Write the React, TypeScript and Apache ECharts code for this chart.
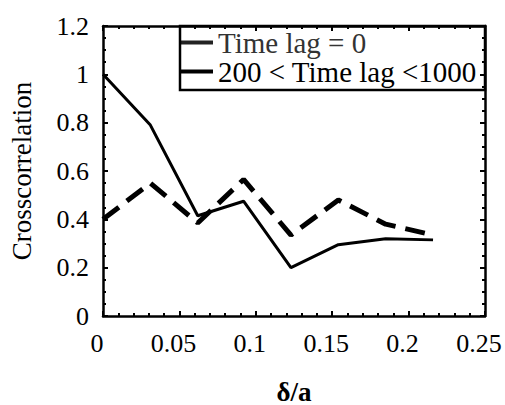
import React, { useEffect, useRef } from "react";
import * as echarts from "echarts";

const xValues = [0, 0.031, 0.062, 0.092, 0.123, 0.154, 0.185, 0.216];
const lag0 = [1.0, 0.79, 0.415, 0.475, 0.2, 0.295, 0.32, 0.315];
const lagRange = [0.4, 0.55, 0.385, 0.565, 0.335, 0.48, 0.38, 0.335];
const seriesNames = ["Time lag = 0", "200 < Time lag <1000"];
const xAxisName = "δ/a";
const yAxisName = "Crosscorrelation";
const xRange = { min: 0, max: 0.25, interval: 0.05 };
const yRange = { min: 0, max: 1.2, interval: 0.2 };

const FONT = "'Liberation Serif', 'Times New Roman', serif";

export default function App() {
  const ref = useRef<HTMLDivElement>(null);
  useEffect(() => {
    if (!ref.current) return;
    const chart = echarts.init(ref.current, undefined, { renderer: "svg" });
    const tickCommon = {
      axisLine: { show: true, onZero: false, lineStyle: { color: "#000", width: 2.5 } },
      splitLine: { show: false },
    };
    const xBase = {
      type: "value",
      min: xRange.min,
      max: xRange.max,
      interval: xRange.interval,
      ...tickCommon,
      axisTick: { show: true, inside: true, length: 5, lineStyle: { color: "#000", width: 2 } },
      minorTick: { show: true, splitNumber: 5, length: 3, lineStyle: { color: "#000", width: 2 } },
    };
    const yBase = {
      type: "value",
      min: yRange.min,
      max: yRange.max,
      interval: yRange.interval,
      ...tickCommon,
      axisTick: { show: true, inside: true, length: 5, lineStyle: { color: "#000", width: 2 } },
      minorTick: { show: true, splitNumber: 4, length: 3, lineStyle: { color: "#000", width: 2 } },
    };
    chart.setOption({
      animation: false,
      backgroundColor: "#fff",
      textStyle: { fontFamily: FONT },
      grid: {
        left: 103,
        right: 20,
        top: 26,
        bottom: 89,
        containLabel: false,
        outerBoundsMode: "none",
      },
      graphic: [
        {
          type: "rect",
          shape: { x: 180, y: 26, width: 305, height: 64 },
          style: { fill: "none", stroke: "#000", lineWidth: 2.5 },
          z: 10,
        },
      ],
      legend: {
        orient: "vertical",
        left: 181,
        top: 28,
        align: "left",
        padding: 0,
        itemGap: 0,
        itemWidth: 32,
        itemHeight: 4,
        textStyle: { fontFamily: FONT, fontSize: 29, color: "#000" },
        data: [
          {
            name: seriesNames[0],
            icon: "rect",
            itemStyle: { color: "#222" },
            textStyle: { fontFamily: FONT, color: "#333", fontSize: 29 },
          },
          {
            name: seriesNames[1],
            icon: "rect",
            itemStyle: { color: "#000" },
            textStyle: { fontFamily: FONT, color: "#000", fontSize: 29 },
          },
        ],
      },
      xAxis: [
        {
          ...xBase,
          position: "bottom",
          name: xAxisName,
          nameLocation: "middle",
          nameGap: 62,
          nameTextStyle: { fontFamily: FONT, fontSize: 27, fontWeight: "bold", color: "#000" },
          axisLabel: {
            fontFamily: FONT,
            fontSize: 26,
            color: "#000",
            margin: 14,
            padding: [0, 12, 0, 0],
          },
        },
        {
          ...xBase,
          position: "top",
          axisLabel: { show: false },
        },
      ],
      yAxis: [
        {
          ...yBase,
          position: "left",
          name: yAxisName,
          nameLocation: "middle",
          nameGap: 68,
          nameTextStyle: { fontFamily: FONT, fontSize: 27, color: "#000" },
          axisLabel: { fontFamily: FONT, fontSize: 26, color: "#000", margin: 14 },
        },
        {
          ...yBase,
          position: "right",
          axisLabel: { show: false },
        },
      ],
      series: [
        {
          name: seriesNames[0],
          type: "line",
          data: xValues.map((x, i) => [x, lag0[i]]),
          symbol: "none",
          lineStyle: { color: "#000", width: 3 },
          itemStyle: { color: "#222" },
          z: 3,
        },
        {
          name: seriesNames[1],
          type: "line",
          data: xValues.map((x, i) => [x, lagRange[i]]),
          symbol: "none",
          lineStyle: { color: "#000", width: 5, type: [20, 10] },
          itemStyle: { color: "#000" },
          z: 2,
        },
      ],
    });
    return () => chart.dispose();
  }, []);
  return (
    <div
      ref={ref}
      style={{ position: "absolute", left: 0, top: 0, width: 505, height: 405 }}
    />
  );
}
